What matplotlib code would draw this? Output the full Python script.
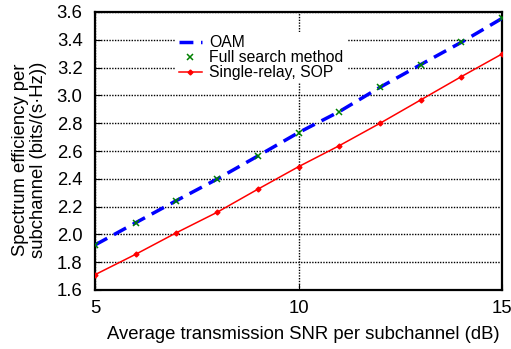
import matplotlib
matplotlib.use("Agg")
import matplotlib.pyplot as plt
import numpy as np

plt.rcParams['font.family'] = ['Liberation Sans', 'DejaVu Sans']

snr = [5, 6, 7, 8, 9, 10, 11, 12, 13, 14, 15]
oam = [1.924, 2.084, 2.243, 2.398, 2.564, 2.732, 2.883, 3.058, 3.221, 3.382, 3.554]
full_search = [1.924, 2.084, 2.243, 2.398, 2.564, 2.732, 2.883, 3.058, 3.221, 3.382, 3.554]
single_relay = [1.71, 1.857, 2.012, 2.159, 2.325, 2.487, 2.638, 2.799, 2.967, 3.135, 3.298]

fig = plt.figure(figsize=(5.11, 3.49), dpi=100)
ax = fig.add_axes([95/511, 1-290/349, 407/511, 278/349])

ax.plot(snr, oam, color='#0000ff', lw=2.5, ls=(0, (4, 2.2)), label='OAM', zorder=3)
ax.plot(snr, full_search, ls='none', marker='x', color='#008000', ms=5, mew=1.1,
        label='Full search method', zorder=4)
ax.plot(snr, single_relay, color='#ff0000', lw=1.1, marker='D', ms=2.5,
        label='Single-relay, SOP', zorder=3)

ax.set_xlim(5, 15)
ax.set_ylim(1.6, 3.6)
ax.set_xticks([5, 10, 15])
ax.set_yticks(np.arange(1.6, 3.61, 0.2))
ax.set_yticklabels(['%.1f' % v for v in np.arange(1.6, 3.61, 0.2)])
ax.grid(True, color='black', ls=(0, (1, 1)), lw=1.0)
ax.tick_params(direction='in', labelsize=13.3, length=4)
ax.tick_params(axis='y', pad=9)
ax.tick_params(axis='x', pad=7)
for s in ax.spines.values():
    s.set_linewidth(1.6)

ax.set_xlabel('Average transmission SNR per subchannel (dB)', fontsize=13.3)
ax.xaxis.set_label_coords(0.511, -0.128)
ax.set_ylabel('Spectrum efficiency per\nsubchannel (bits/(s·Hz))', fontsize=13.3,
              linespacing=1.05)
ax.yaxis.set_label_coords(-0.118, 0.47)

leg = ax.legend(loc='upper left', bbox_to_anchor=(0.198, 0.928), fontsize=11.3,
                frameon=True, fancybox=False, edgecolor='none', framealpha=1,
                handlelength=1.5, handletextpad=0.45, labelspacing=0.0,
                borderpad=0.2, borderaxespad=0)
leg.set_zorder(5)

fig.savefig('out.png', dpi=100)
